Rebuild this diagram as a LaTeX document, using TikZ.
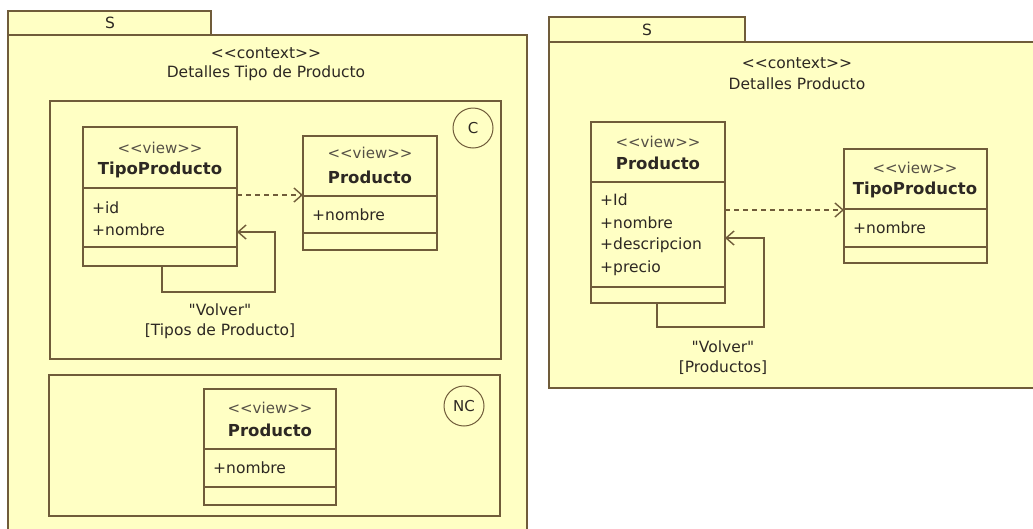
\documentclass[tikz,border=0pt]{standalone}
\usepackage{fontspec}
\newfontfamily\umlfont{DejaVu Sans}
\usetikzlibrary{arrows.meta}

\definecolor{umlfill}{RGB}{255,255,196}
\definecolor{umlline}{RGB}{112,92,58}
\definecolor{umltext}{RGB}{45,40,35}
\definecolor{umlstereo}{RGB}{85,80,70}

\tikzset{
  pkgline/.style={draw=umlline, line width=1.6pt},
  frameline/.style={draw=umlline, line width=1.6pt},
  cls/.style={draw=umlline, fill=umlfill, line width=1.6pt, rectangle,
    inner sep=0pt, outer sep=0pt, anchor=north west},
  divider/.style={draw=umlline, line width=1.6pt},
  plain/.style={text=umltext, inner sep=0pt,
    font=\umlfont\fontsize{15.5}{19}\selectfont},
  stereo/.style={text=umlstereo, inner sep=0pt,
    font=\umlfont\fontsize{15}{18}\selectfont},
  cname/.style={text=umltext, inner sep=0pt,
    font=\umlfont\bfseries\fontsize{16.5}{20}\selectfont},
  attr/.style={plain, anchor=west},
  marker/.style={circle, draw=umlline, line width=1pt, inner sep=0pt,
    minimum size=40pt, text=umltext,
    font=\umlfont\fontsize{15}{18}\selectfont},
  dep/.style={draw=umlline, line width=1.6pt, dash pattern=on 5pt off 4pt,
    -{Straight Barb[length=8pt, width=14pt, line width=1.4pt]}},
  nav/.style={draw=umlline, line width=1.6pt,
    -{Straight Barb[length=8pt, width=14pt, line width=1.4pt]}},
}

\begin{document}
\begin{tikzpicture}[x=1pt, y=-1pt]
\useasboundingbox (0,0) rectangle (1033,528);

% ---------- left package: Detalles Tipo de Producto ----------
\fill[umlfill] (8,11) rectangle (211,35);
\draw[pkgline] (8,35) -- (8,11) -- (211,11) -- (211,35);
\fill[umlfill] (8,35) rectangle (527,545);
\draw[pkgline] (8,545) -- (8,35) -- (527,35) -- (527,545);
\node[plain] (sL) at (110,23) {S};
\node[plain] (ctxL) at (266,53) {<<context>>};
\node[plain] (titL) at (266,73) {Detalles Tipo de Producto};

% conditional frame (C)
\draw[frameline] (50,101) rectangle (501,359);
\node[marker] (mC) at (473,128) {C};

\node[cls, minimum width=154pt, minimum height=139pt] (tpA) at (83,127) {};
\draw[divider] (tpA.west |- 0,188) -- (tpA.east |- 0,188);
\draw[divider] (tpA.west |- 0,247) -- (tpA.east |- 0,247);
\node[stereo] (tpAs) at (160,148) {<<view>>};
\node[cname] (tpAn) at (160,170) {TipoProducto};
\node[attr] (tpAa1) at (92,208) {+id};
\node[attr] (tpAa2) at (92,230) {+nombre};

\node[cls, minimum width=134pt, minimum height=114pt] (prA) at (303,136) {};
\draw[divider] (prA.west |- 0,196) -- (prA.east |- 0,196);
\draw[divider] (prA.west |- 0,233) -- (prA.east |- 0,233);
\node[stereo] (prAs) at (370,153) {<<view>>};
\node[cname] (prAn) at (370,177) {Producto};
\node[attr] (prAa1) at (312,215) {+nombre};

\draw[dep] (tpA.east |- 0,195) -- (prA.west |- 0,195);
\draw[nav] (tpA.south -| 162,0) -- (162,292) -- (275,292) -- (275,232)
  -- (tpA.east |- 0,232);
\node[plain] (volA) at (220,310) {"Volver"};
\node[plain] (volAg) at (220,331) {[Tipos de Producto]};

% non-conditional frame (NC)
\draw[frameline] (49,375) rectangle (500,516);
\node[marker] (mNC) at (464,406) {NC};

\node[cls, minimum width=132pt, minimum height=116pt] (prB) at (204,389) {};
\draw[divider] (prB.west |- 0,449) -- (prB.east |- 0,449);
\draw[divider] (prB.west |- 0,487) -- (prB.east |- 0,487);
\node[stereo] (prBs) at (270,408) {<<view>>};
\node[cname] (prBn) at (270,430) {Producto};
\node[attr] (prBa1) at (213,468) {+nombre};

% ---------- right package: Detalles Producto ----------
\fill[umlfill] (549,17) rectangle (745,42);
\draw[pkgline] (549,42) -- (549,17) -- (745,17) -- (745,42);
\fill[umlfill] (549,42) rectangle (1045,388);
\draw[pkgline] (1045,42) -- (549,42) -- (549,388) -- (1045,388);
\node[plain] (sR) at (647,30) {S};
\node[plain] (ctxR) at (797,63) {<<context>>};
\node[plain] (titR) at (797,84) {Detalles Producto};

\node[cls, minimum width=134pt, minimum height=181pt] (prC) at (591,122) {};
\draw[divider] (prC.west |- 0,182) -- (prC.east |- 0,182);
\draw[divider] (prC.west |- 0,287) -- (prC.east |- 0,287);
\node[stereo] (prCs) at (658,142) {<<view>>};
\node[cname] (prCn) at (658,163) {Producto};
\node[attr] (prCa1) at (600,200) {+Id};
\node[attr] (prCa2) at (600,223) {+nombre};
\node[attr] (prCa3) at (600,245) {+descripcion};
\node[attr] (prCa4) at (600,268) {+precio};

\node[cls, minimum width=143pt, minimum height=114pt] (tpB) at (844,149) {};
\draw[divider] (tpB.west |- 0,209) -- (tpB.east |- 0,209);
\draw[divider] (tpB.west |- 0,247) -- (tpB.east |- 0,247);
\node[stereo] (tpBs) at (915,168) {<<view>>};
\node[cname] (tpBn) at (915,190) {TipoProducto};
\node[attr] (tpBa1) at (853,228) {+nombre};

\draw[dep] (prC.east |- 0,210) -- (tpB.west |- 0,210);
\draw[nav] (prC.south -| 657,0) -- (657,327) -- (764,327) -- (764,238)
  -- (prC.east |- 0,238);
\node[plain] (volB) at (723,347) {"Volver"};
\node[plain] (volBg) at (723,368) {[Productos]};
\end{tikzpicture}
\end{document}
